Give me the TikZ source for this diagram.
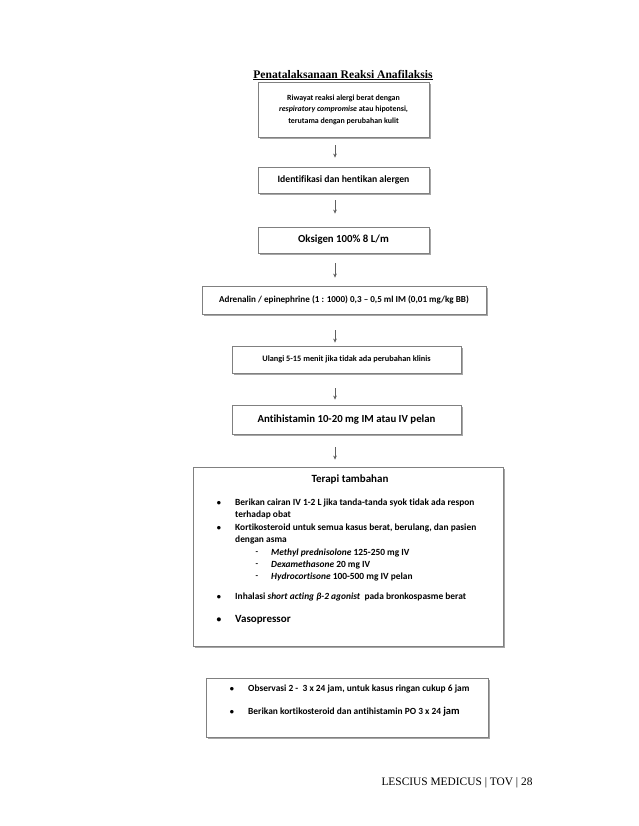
\documentclass[tikz,border=0pt]{standalone}
\usepackage{fontspec}
\setmainfont{Carlito}[Ligatures=NoCommon]
\newfontfamily\timesf{Liberation Serif}
\usetikzlibrary{shadows,arrows.meta}
\definecolor{boxgray}{HTML}{808080}
\definecolor{arrowgray}{HTML}{606060}
\definecolor{shadowgray}{HTML}{A6A6A6}
\begin{document}
\begin{tikzpicture}[x=1pt,y=-1pt,
 box/.style={draw=boxgray, line width=0.8pt, fill=white,
   drop shadow={shadow xshift=1.6pt,shadow yshift=-1.6pt,fill=shadowgray,opacity=1},
   inner sep=0pt, align=center},
 flow/.style={-{Stealth[length=4pt,width=3.6pt]}, draw=arrowgray, line width=0.6pt},
 item/.style={anchor=west, inner sep=0pt, font=\bfseries\fontsize{9.4}{11}\selectfont},
 bul/.style={inner sep=0pt, font=\bfseries\fontsize{8.3}{10}\selectfont},
]
\useasboundingbox (0,0) rectangle (638,826);
\fill[white] (0,0) rectangle (638,826);

\node[inner sep=0pt, font=\timesf\bfseries\fontsize{11.6}{13}\selectfont] (title) at (343,75) {\underline{Penatalaksanaan Reaksi Anafilaksis}};

\node[box, minimum width=171pt, minimum height=55pt, font=\bfseries\fontsize{7.9}{11.5}\selectfont] (b1) at (343.5,109.5)
 {Riwayat reaksi alergi berat dengan\\ \textit{respiratory compromise} atau hipotensi,\\ terutama dengan perubahan kulit};
\node[box, minimum width=171pt, minimum height=26pt, font=\bfseries\fontsize{9.7}{11}\selectfont] (b2) at (343.5,180) {Identifikasi dan hentikan alergen};
\node[box, minimum width=171pt, minimum height=26pt, font=\bfseries\fontsize{10.8}{12}\selectfont] (b3) at (343.5,240) {Oksigen 100\% 8 L/m};
\node[box, minimum width=284pt, minimum height=28pt, font=\bfseries\fontsize{9.1}{10}\selectfont] (b4) at (344,300) {Adrenalin / epinephrine (1 : 1000) 0,3 -- 0,5 ml IM (0,01 mg/kg BB)};
\node[box, minimum width=229pt, minimum height=27pt, font=\bfseries\fontsize{8.3}{10}\selectfont] (b5) at (346.5,359.5) {Ulangi 5-15 menit jika tidak ada perubahan klinis};
\node[box, minimum width=229pt, minimum height=29pt, font=\bfseries\fontsize{10.8}{12}\selectfont] (b6) at (346.5,419.5) {Antihistamin 10-20 mg IM atau IV pelan};
\node[box, minimum width=310pt, minimum height=179pt] (b7) at (348,556.5) {};
\node[box, minimum width=282pt, minimum height=59pt] (b8) at (347,707.5) {};

% arrows
\coordinate (ax) at (335,0);
\draw[flow, shorten <=8pt, shorten >=9pt] (b1.south -| ax) -- (b2.north -| ax);
\draw[flow, shorten <=7pt, shorten >=13pt] (b2.south -| ax) -- (b3.north -| ax);
\draw[flow, shorten <=10pt, shorten >=8pt] (b3.south -| ax) -- (b4.north -| ax);
\draw[flow, shorten <=16pt, shorten >=3pt] (b4.south -| ax) -- (b5.north -| ax);
\draw[flow, shorten <=15pt, shorten >=5pt] (b5.south -| ax) -- (b6.north -| ax);
\draw[flow, shorten <=13pt, shorten >=7pt] (b6.south -| ax) -- (b7.north -| ax);

% box 7 content
\node[inner sep=0pt, font=\bfseries\fontsize{11}{13}\selectfont] (t7) at (350,480) {Terapi tambahan};
\node[bul] (p1) at (219,503) {\textbullet};
\node[item] (l1) at (235,503) {Berikan cairan IV 1-2 L jika tanda-tanda syok tidak ada respon};
\node[item] (l2) at (235,515) {terhadap obat};
\node[bul] (p2) at (219,528) {\textbullet};
\node[item] (l3) at (235,528) {Kortikosteroid untuk semua kasus berat, berulang, dan pasien};
\node[item] (l4) at (235,540) {dengan asma};
\node[bul] (d1) at (257,553) {-};
\node[item] (s1) at (271,553) {\textit{Methyl prednisolone} 125-250 mg IV};
\node[bul] (d2) at (257,565) {-};
\node[item] (s2) at (271,565) {\textit{Dexamethasone} 20 mg IV};
\node[bul] (d3) at (257,577) {-};
\node[item] (s3) at (271,577) {\textit{Hydrocortisone} 100-500 mg IV pelan};
\node[bul] (p3) at (219,597) {\textbullet};
\node[item] (l5) at (235,597) {Inhalasi \textit{short acting β-2 agonist}\ \ pada bronkospasme berat};
\node[bul, font=\bfseries\fontsize{9.5}{11}\selectfont] (p4) at (219,620) {\textbullet};
\node[item, font=\bfseries\fontsize{11}{12}\selectfont] (l6) at (235,620) {Vasopressor};

% box 8 content
\node[bul] (q1) at (232,689) {\textbullet};
\node[item] (m1) at (248,689) {Observasi 2 -\ \ 3 x 24 jam, untuk kasus ringan cukup 6 jam};
\node[bul] (q2) at (232,712) {\textbullet};
\node[item] (m2) at (248,712) {Berikan kortikosteroid dan antihistamin PO 3 x 24 {\fontsize{10.5}{12}\selectfont jam}};

\node[inner sep=0pt, font=\timesf\fontsize{11.4}{13}\selectfont] (foot) at (457,783) {LESCIUS MEDICUS | TOV | 28};
\end{tikzpicture}
\end{document}
